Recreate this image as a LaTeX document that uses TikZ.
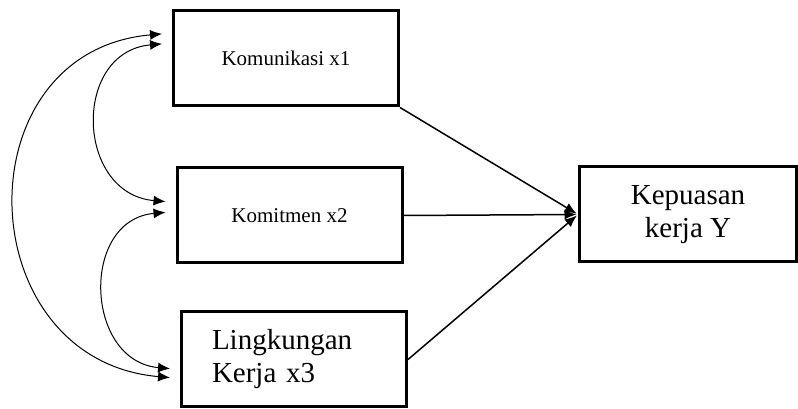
\documentclass[tikz,border=0pt]{standalone}
\usepackage{fontspec}
\setmainfont{Liberation Serif}
\usetikzlibrary{positioning,arrows.meta}

\begin{document}
\begin{tikzpicture}[
    x=1pt, y=1pt,
    >={Latex[length=12pt,width=10pt]},
    box/.style={
        draw,
        line width=3pt,
        minimum width=225pt,
        minimum height=95pt,
        inner sep=0pt,
        font=\fontsize{21}{24}\selectfont
    },
    bigtext/.style={font=\fontsize{29}{33}\selectfont},
    link/.style={->, line width=1.5pt, shorten >=1.5pt},
    corr/.style={<->, line width=1pt, shorten <=10pt, shorten >=10pt}
]
    \useasboundingbox (0,0) rectangle (798,409);

    % Variabel bebas (kiri)
    \node[box] (kom) at (286,350.5) {Komunikasi x1};
    \node[box, below=59pt of kom, xshift=3.5pt] (komit) {Komitmen x2};
    \node[box, bigtext, align=left, text width=164pt,
          below=46pt of komit, xshift=4.5pt] (ling) {Lingkungan\\Kerja x3};

    % Variabel terikat (kanan)
    \node[box, bigtext, align=center, minimum width=217pt,
          right=174.5pt of komit, yshift=1pt] (puas) {Kepuasan\\kerja Y};

    % Pengaruh ke Y
    \draw[link] (kom.south east) -- (puas.west);
    \draw[link] (komit.east) -- (puas.west);
    \draw[link] (ling.east) -- (puas.west);

    % Korelasi antar variabel bebas
    \draw[corr] ([yshift=25.5pt]kom.west) to[out=185, in=175, looseness=1.57] ([yshift=-19pt]ling.west);
    \draw[corr] ([yshift=15.5pt]kom.west) to[out=185, in=175, looseness=1.61] ([yshift=13pt]komit.west);
    \draw[corr] ([yshift=4pt]komit.west) to[out=185, in=175, looseness=1.55] ([yshift=-10pt]ling.west);
\end{tikzpicture}
\end{document}
